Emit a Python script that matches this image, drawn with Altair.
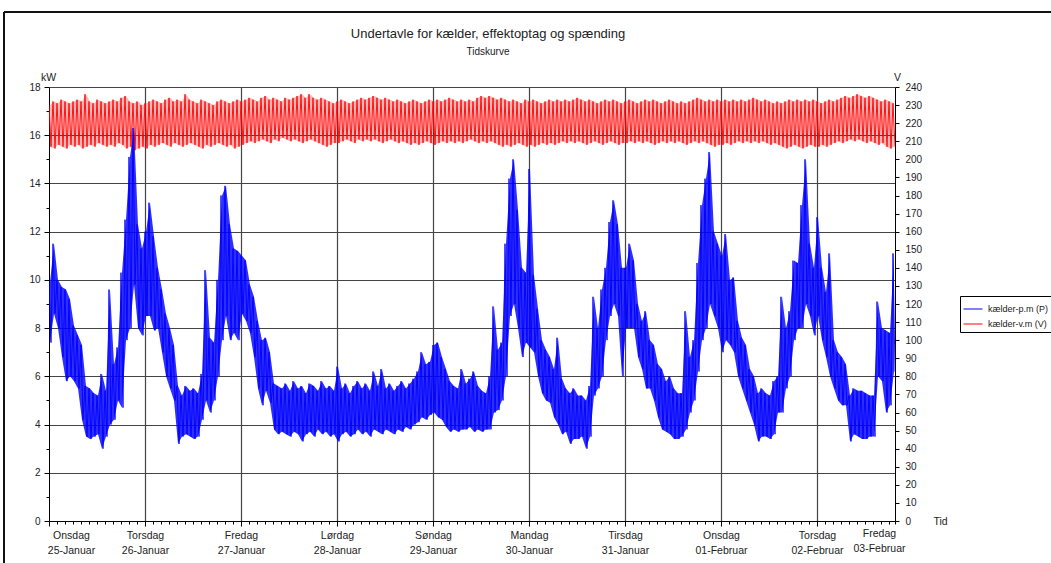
import json
import altair as alt
import pandas as pd

# ---------------- data ----------------
# Effect (kW), hourly upper / lower envelope of the noisy trace, hour 0 = Wed 25-Jan 00:00
p_hi = (
    [9.9, 11.5, 10.0, 9.7, 9.6, 9.2, 8.1, 7.7, 7.3, 5.6, 5.5, 5.3, 5.2, 6.1, 5.4, 9.6, 6.5, 7.2, 10.3, 12.5, 15.1, 16.3, 12.3, 11.3]
    + [12.0, 13.2, 11.8, 10.5, 9.6, 8.6, 8.0, 7.3, 5.6, 5.2, 5.6, 5.4, 5.5, 5.3, 6.1, 10.4, 7.6, 7.4, 10.0, 13.5, 13.9, 12.3, 11.3, 11.2]
    + [11.0, 10.8, 9.8, 9.3, 8.3, 7.5, 7.6, 7.0, 5.7, 5.6, 5.5, 5.7, 5.4, 5.8, 5.5, 5.6, 5.3, 5.7, 5.6, 5.4, 5.8, 5.5, 5.6, 5.4]
    + [6.4, 5.5, 5.7, 5.3, 5.6, 5.8, 5.5, 5.7, 5.4, 6.2, 5.6, 6.3, 5.5, 5.7, 5.4, 5.6, 5.8, 5.5, 5.7, 5.9, 6.2, 7.0, 6.5, 6.6]
    + [7.3, 7.4, 6.8, 6.3, 5.8, 5.6, 5.5, 6.3, 5.7, 5.9, 6.2, 5.6, 5.4, 5.3, 6.0, 8.9, 7.1, 7.4, 11.5, 14.2, 15.0, 12.9, 10.5, 10.3]
    + [14.6, 10.2, 8.8, 7.5, 7.1, 6.8, 6.3, 7.6, 5.9, 5.5, 5.3, 5.5, 5.2, 5.2, 5.0, 5.6, 9.3, 8.0, 9.6, 10.5, 12.4, 13.3, 12.3, 10.5]
    + [10.5, 11.5, 10.8, 9.0, 8.3, 8.7, 7.5, 7.3, 6.5, 6.3, 5.8, 6.0, 5.5, 5.3, 5.3, 8.7, 6.8, 7.5, 10.7, 13.1, 14.2, 15.3, 12.0, 11.5]
    + [11.0, 11.9, 10.0, 10.1, 8.3, 7.6, 7.3, 6.3, 6.0, 5.3, 5.5, 5.3, 5.2, 5.8, 6.0, 9.3, 8.0, 8.7, 10.8, 10.7, 13.1, 15.0, 11.5, 10.5]
    + [12.6, 10.5, 9.5, 11.1, 7.5, 7.0, 6.8, 6.5, 5.2, 5.5, 5.4, 5.4, 5.3, 5.2, 5.2, 9.1, 8.0, 7.9, 7.8, 11.1]
)
p_lo = (
    [7.4, 8.6, 8.0, 6.8, 5.8, 6.0, 5.8, 5.5, 4.2, 3.5, 3.4, 3.5, 3.6, 3.0, 3.5, 4.0, 4.2, 5.0, 4.7, 7.5, 8.0, 9.8, 8.0, 7.7]
    + [8.5, 8.5, 7.9, 8.0, 7.0, 6.0, 5.5, 5.0, 3.2, 3.5, 3.6, 3.5, 3.4, 3.5, 4.2, 5.0, 4.5, 5.0, 6.0, 7.5, 8.5, 7.5, 7.8, 7.5]
    + [8.6, 8.3, 7.8, 6.8, 5.5, 4.8, 5.4, 4.9, 3.8, 3.6, 3.7, 3.6, 3.5, 3.7, 3.6, 3.3, 3.6, 3.7, 3.5, 3.8, 3.6, 3.7, 3.5, 3.6]
    + [3.3, 3.6, 3.7, 3.5, 3.6, 3.8, 3.6, 3.7, 3.5, 3.8, 3.7, 3.6, 3.8, 3.7, 3.6, 3.8, 3.7, 3.9, 3.8, 4.0, 4.1, 4.3, 4.2, 4.4]
    + [4.5, 4.3, 4.2, 3.9, 3.7, 3.8, 3.7, 3.8, 3.8, 3.9, 3.7, 3.8, 3.7, 3.8, 3.8, 4.5, 4.6, 5.0, 6.0, 8.5, 9.0, 8.0, 6.8, 7.4]
    + [7.2, 7.0, 6.0, 5.3, 5.0, 4.9, 4.3, 4.0, 3.6, 3.7, 3.2, 3.4, 3.4, 3.5, 3.0, 3.5, 5.2, 5.5, 6.0, 7.5, 8.5, 9.0, 8.5, 6.0]
    + [8.0, 8.0, 8.0, 6.8, 6.3, 5.5, 5.5, 5.0, 4.3, 3.8, 3.7, 3.6, 3.4, 3.4, 3.5, 3.8, 4.5, 5.0, 6.2, 7.5, 8.0, 9.0, 8.5, 8.0]
    + [7.0, 7.5, 7.3, 7.0, 6.0, 5.5, 5.0, 4.5, 4.0, 3.3, 3.5, 3.5, 3.4, 3.6, 4.5, 4.5, 5.5, 6.0, 7.5, 8.0, 8.0, 9.0, 8.5, 7.7]
    + [8.5, 7.5, 6.8, 6.0, 5.5, 5.0, 4.8, 4.8, 3.3, 3.6, 3.5, 3.4, 3.4, 3.5, 3.5, 6.0, 5.8, 4.5, 4.8, 6.2]
)
# Voltage (V), hourly upper / lower envelope
v_hi = (
    [230, 232, 231, 233, 232, 231, 232, 233, 232, 236, 232, 231, 233, 232, 231, 232, 233, 232, 234, 235, 232, 231, 232, 230]
    + [231, 232, 233, 232, 231, 233, 234, 232, 233, 232, 236, 233, 232, 231, 233, 232, 231, 230, 232, 233, 232, 231, 232, 233]
    + [232, 233, 234, 233, 232, 234, 235, 233, 234, 233, 232, 234, 233, 234, 235, 236, 234, 236, 234, 233, 234, 233, 232, 231]
    + [232, 233, 232, 231, 232, 233, 234, 233, 234, 235, 234, 233, 234, 233, 232, 233, 232, 231, 232, 233, 232, 231, 232, 233]
    + [232, 233, 232, 233, 234, 233, 232, 233, 232, 233, 232, 234, 235, 234, 235, 234, 233, 234, 233, 232, 233, 232, 231, 233]
    + [232, 233, 232, 231, 232, 233, 232, 233, 232, 233, 232, 233, 234, 233, 232, 233, 232, 231, 232, 233, 232, 233, 232, 231]
    + [232, 233, 232, 231, 232, 233, 232, 233, 232, 231, 232, 233, 232, 231, 232, 231, 232, 233, 234, 233, 232, 233, 232, 233]
    + [232, 233, 232, 233, 232, 233, 232, 233, 234, 233, 232, 233, 232, 231, 232, 231, 232, 233, 232, 233, 232, 233, 232, 233]
    + [232, 231, 232, 233, 232, 233, 234, 235, 234, 235, 236, 235, 234, 235, 234, 233, 232, 233, 232, 231]
)
v_lo = (
    [207, 206, 208, 207, 206, 208, 207, 208, 206, 207, 208, 207, 209, 208, 207, 208, 207, 209, 208, 206, 207, 205, 206, 207]
    + [206, 208, 207, 208, 209, 208, 207, 209, 208, 207, 208, 209, 208, 207, 206, 208, 207, 208, 209, 208, 207, 208, 206, 207]
    + [208, 209, 210, 209, 210, 211, 210, 209, 211, 210, 212, 211, 210, 211, 210, 209, 210, 211, 210, 209, 208, 207, 208, 209]
    + [209, 210, 211, 210, 209, 211, 210, 211, 210, 211, 210, 209, 210, 211, 210, 209, 210, 209, 208, 209, 208, 209, 210, 209]
    + [208, 209, 210, 209, 210, 209, 210, 209, 210, 211, 210, 209, 210, 209, 210, 209, 208, 207, 208, 207, 208, 209, 208, 207]
    + [208, 207, 208, 209, 208, 209, 208, 209, 210, 209, 210, 209, 210, 209, 208, 209, 210, 209, 208, 209, 210, 209, 208, 209]
    + [209, 210, 209, 210, 209, 210, 209, 208, 209, 210, 209, 210, 209, 210, 209, 208, 209, 210, 209, 210, 209, 208, 207, 208]
    + [208, 209, 208, 209, 210, 209, 210, 209, 210, 209, 210, 209, 208, 209, 208, 207, 206, 207, 208, 207, 206, 207, 208, 207]
    + [207, 208, 207, 208, 209, 210, 209, 210, 211, 210, 211, 210, 209, 210, 209, 208, 209, 207, 206, 207]
)

day_names = ["Onsdag", "Torsdag", "Fredag", "Lørdag", "Søndag", "Mandag", "Tirsdag", "Onsdag", "Torsdag", "Fredag"]
date_names = ["25-Januar", "26-Januar", "27-Januar", "28-Januar", "29-Januar", "30-Januar",
              "31-Januar", "01-Februar", "02-Februar", "03-Februar"]
series_names = ["kælder-p.m (P)", "kælder-v.m (V)"]
series_colors = ["#0000ff", "#ff0000"]

# ---------------- tables ----------------
hours = list(range(len(p_hi)))
t_end = hours[-1] + 0.5
rows_p, rows_v = [], []
for h in hours:
    rows_p.append({"t": h, "kW": p_hi[h], "serie": series_names[0]})
    rows_p.append({"t": h + 0.5, "kW": p_lo[h], "serie": series_names[0]})
    rows_v.append({"t": h, "V": v_hi[h], "serie": series_names[1]})
    rows_v.append({"t": h + 0.5, "V": v_lo[h], "serie": series_names[1]})
df_p = pd.DataFrame(rows_p)
df_v = pd.DataFrame(rows_v)
band_p = pd.DataFrame({"t": [h + 0.25 for h in hours], "lo": p_lo, "hi": p_hi})
band_v = pd.DataFrame({"t": [h + 0.25 for h in hours], "lo": v_lo, "hi": v_hi})

FONT = "Liberation Sans"
TXT = "#222222"
GRID = "#444444"

D = json.dumps(day_names, ensure_ascii=False)
M = json.dumps(date_names, ensure_ascii=False)
last = len(day_names) - 1
x_label_expr = (
    f"datum.value % 24 == 0 ? [{D}[datum.value / 24], {M}[datum.value / 24]] : "
    f"(datum.value >= {t_end} ? [{D}[{last}], {M}[{last}]] : '')"
)
x_values = list(range(0, int(t_end), 2)) + [t_end]

x_axis = alt.Axis(
    values=x_values, labelExpr=x_label_expr, labelFlush=False, labelOverlap=False,
    labelAlign="center",
    labelOffset={"condition": [
        {"test": "datum.value == 0", "value": 22},
        {"test": f"datum.value >= {t_end}", "value": -16},
    ], "value": 0},
    labelFontSize=10.5, labelLineHeight=15, labelPadding=4, labelColor=TXT,
    tickSize={"condition": {"test": "datum.value % 24 == 0", "value": 5}, "value": 3},
    tickColor="#000", domainColor="#000",
    grid=True, gridColor=GRID, gridWidth=1.2,
    gridOpacity={"condition": {"test": "datum.value % 24 == 0 && datum.value > 0", "value": 1}, "value": 0},
    title="Tid", titleX=891, titleY=0, titleAlign="center", titleBaseline="middle",
    titleFontSize=10.5, titleFontWeight="normal", titleColor=TXT,
)
x_enc = alt.X("t:Q", scale=alt.Scale(domain=[0, t_end], nice=False, zero=False), axis=x_axis)

color_enc = alt.Color(
    "serie:N",
    scale=alt.Scale(domain=series_names, range=series_colors),
    legend=alt.Legend(
        title=None, orient="none", legendX=911, legendY=209,
        strokeColor="#000", fillColor="#ffffff", padding=3, cornerRadius=0,
        labelFontSize=9, labelColor=TXT, symbolType="stroke", symbolSize=361,
        symbolStrokeWidth=1, labelOffset=5, rowPadding=0,
    ),
)

left_axis = alt.Axis(
    orient="left", values=list(range(0, 19)),
    labelExpr="datum.value % 2 == 0 ? datum.label : ''", labelOverlap=False,
    labelFontSize=10, labelPadding=4, labelColor=TXT,
    tickSize={"condition": {"test": "datum.value % 2 == 0", "value": 5}, "value": 3},
    tickColor="#000", domainColor="#000",
    grid=True, gridColor=GRID, gridWidth=1.2,
    gridOpacity={"condition": {"test": "datum.value % 2 == 0", "value": 1}, "value": 0},
    title="kW", titleAngle=0, titleX=-1, titleY=-10, titleAlign="center", titleBaseline="middle",
    titleFontSize=10.5, titleFontWeight="normal", titleColor=TXT,
)
right_axis = alt.Axis(
    orient="right", values=list(range(0, 241, 10)), labelOverlap=False,
    labelFontSize=10, labelPadding=6, labelColor=TXT,
    tickSize=4, tickColor="#000", domainColor="#000", grid=False,
    title="V", titleAngle=0, titleX=2, titleY=-10, titleAlign="center", titleBaseline="middle",
    titleFontSize=10.5, titleFontWeight="normal", titleColor=TXT,
)

y_v = alt.Scale(domain=[0, 240], nice=False)
y_p = alt.Scale(domain=[0, 18], nice=False)

red_band = alt.Chart(band_v).mark_area(color="#ff0000", opacity=0.28, clip=True).encode(
    x=x_enc, y=alt.Y("lo:Q", scale=y_v, axis=right_axis), y2="hi:Q"
)
red_line = alt.Chart(df_v).mark_line(strokeWidth=0.9, clip=True).encode(
    x=x_enc, y=alt.Y("V:Q", scale=y_v, axis=right_axis), color=color_enc
)
blue_band = alt.Chart(band_p).mark_area(color="#0000ff", opacity=0.82, clip=True).encode(
    x=x_enc, y=alt.Y("lo:Q", scale=y_p, axis=left_axis), y2="hi:Q"
)
blue_line = alt.Chart(df_p).mark_line(strokeWidth=0.9, clip=True).encode(
    x=x_enc, y=alt.Y("kW:Q", scale=y_p, axis=left_axis), color=color_enc
)

red = alt.layer(red_band, red_line)
blue = alt.layer(blue_band, blue_line)

# decorative frame around the whole picture (top and left border)
frame_top = alt.Chart(alt.InlineData(values=[{}])).mark_rule(color="#111", strokeWidth=2).encode(
    x=alt.value(-45), x2=alt.value(1010), y=alt.value(-75)
)
frame_left = alt.Chart(alt.InlineData(values=[{}])).mark_rule(color="#111", strokeWidth=2).encode(
    x=alt.value(-45), y=alt.value(-75), y2=alt.value(490)
)

chart = (
    alt.layer(red, blue, frame_top, frame_left)
    .resolve_scale(y="independent")
    .properties(
        width=846, height=434,
        autosize=alt.AutoSizeParams(type="none"),
        padding={"left": 49, "top": 87, "right": 156, "bottom": 42},
        title=alt.TitleParams(
            text="Undertavle for kælder, effektoptag og spænding",
            subtitle="Tidskurve",
            fontSize=13, fontWeight="normal", subtitleFontSize=10,
            color=TXT, subtitleColor=TXT, font=FONT, subtitleFont=FONT,
            anchor="middle", frame="group", dx=16, offset=-46, subtitlePadding=6,
        ),
    )
    .configure(font=FONT, background="#ffffff")
    .configure_view(stroke=None)
    .configure_axis(labelFont=FONT, titleFont=FONT)
    .configure_legend(labelFont=FONT)
)

chart.save("out.html", embed_options={"renderer": "svg", "actions": False})
